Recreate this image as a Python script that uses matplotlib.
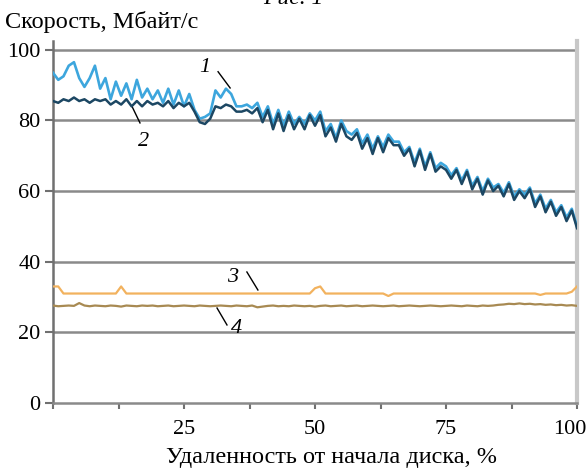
import matplotlib.pyplot as plt
import matplotlib.transforms as mtransforms
import numpy as np

plt.rcParams['font.family'] = ['Liberation Serif', 'DejaVu Serif']

# distance from disk start, %
x = np.arange(0, 101)

# 1 - light blue
s1 = [93.5, 91.5, 92.5, 95.5, 96.5, 92, 89.5, 92, 95.5, 89,
      92, 86, 91, 87, 90.5, 86, 91.5, 86.5, 89, 86,
      88.5, 85, 89, 84.5, 88.5, 84, 87.5, 83, 80.5, 81,
      82, 88.5, 86.5, 89, 87.5, 84, 84, 84.5, 83.5, 85,
      81, 84, 79, 83, 78.5, 82.5, 79, 81, 79, 82,
      80, 82.5, 77, 79, 75, 80, 77, 76, 77.5, 73.5,
      76, 72, 75.5, 72.5, 76, 74, 74, 71, 72.5, 68,
      72, 67, 71, 66.5, 68, 67, 64.5, 66.5, 63, 66,
      61.5, 64, 60, 63.5, 61, 62, 59.5, 62.5, 58.5, 60.5,
      59, 61, 56.5, 59, 55, 57.5, 54, 56, 52.5, 55,
      50]

# 2 - dark blue
s2 = [85.5, 85, 86, 85.5, 86.5, 85.5, 86, 85, 86, 85.5,
      86, 84.5, 85.5, 84.5, 86, 84, 85.5, 84, 85.5, 84.5,
      85, 84, 85.5, 83.5, 85, 84, 85, 82.5, 79.5, 79,
      80.5, 84, 83.5, 84.5, 84, 82.5, 82.5, 83, 82, 83.5,
      79.5, 83, 77.5, 82, 77, 81.5, 77.5, 80.5, 77.5, 81.5,
      78.5, 81.5, 75.5, 78, 74, 79, 75.5, 74.5, 76.5, 72,
      75, 70.5, 75, 71, 75, 73, 73, 70, 72, 67,
      71.5, 66, 70.5, 65.5, 67, 66, 63.5, 66, 62, 65.5,
      60.5, 63.5, 59, 63, 60, 61.5, 58.5, 62, 57.5, 60,
      58, 60.5, 55.5, 58.5, 54, 57, 53, 55.5, 51.5, 54.5,
      49.5]

# 3 - orange
s3 = [33, 33, 31, 31, 31, 31, 31, 31, 31, 31,
      31, 31, 31, 33, 31, 31, 31, 31, 31, 31,
      31, 31, 31, 31, 31, 31, 31, 31, 31, 31,
      31, 31, 31, 31, 31, 31, 31, 31, 31, 31,
      31, 31, 31, 31, 31, 31, 31, 31, 31, 31,
      32.5, 33, 31, 31, 31, 31, 31, 31, 31, 31,
      31, 31, 31, 31, 30.3, 31, 31, 31, 31, 31,
      31, 31, 31, 31, 31, 31, 31, 31, 31, 31,
      31, 31, 31, 31, 31, 31, 31, 31, 31, 31,
      31, 31, 31, 30.6, 31, 31, 31, 31, 31, 31.5,
      33]

# 4 - brown
s4 = [27.6, 27.4, 27.5, 27.6, 27.5, 28.3, 27.6, 27.4, 27.6, 27.5,
      27.4, 27.6, 27.5, 27.3, 27.6, 27.5, 27.4, 27.6, 27.5, 27.6,
      27.4, 27.5, 27.6, 27.4, 27.5, 27.6, 27.5, 27.4, 27.6, 27.5,
      27.4, 27.5, 27.6, 27.5, 27.4, 27.6, 27.5, 27.4, 27.6, 27.1,
      27.3, 27.5, 27.6, 27.4, 27.5, 27.4, 27.6, 27.5, 27.4, 27.5,
      27.3, 27.5, 27.6, 27.4, 27.5, 27.6, 27.4, 27.5, 27.6, 27.4,
      27.5, 27.6, 27.5, 27.4, 27.5, 27.6, 27.4, 27.5, 27.6, 27.5,
      27.4, 27.5, 27.6, 27.5, 27.4, 27.5, 27.6, 27.5, 27.4, 27.6,
      27.5, 27.4, 27.6, 27.5, 27.6, 27.8, 27.9, 28.1, 28.0, 28.2,
      28.0, 28.1, 27.9, 28.0, 27.8, 27.9, 27.7, 27.8, 27.6, 27.7,
      27.5]

fig = plt.figure(figsize=(5.87, 4.69), dpi=100)
ax = fig.add_axes([0.0903, 0.1407, 0.8927, 0.7719])

grid_c = '#8a8a8a'
for gy in [20, 40, 60, 80, 100]:
    ax.axhline(gy, color=grid_c, lw=1.8, zorder=1)

ax.plot(x, s4, color='#a88a52', lw=1.6, zorder=3)
ax.plot(x, s3, color='#f2b25e', lw=1.6, zorder=3)
ax.plot(x, s1, color='#3da6dd', lw=1.9, zorder=3)
ax.plot(x, s2, color='#1c4763', lw=1.8, zorder=4)

ax.set_xlim(0, 100)
ax.set_ylim(0, 102.5)

ax.spines['top'].set_visible(False)
ax.spines['left'].set_color('#707070')
ax.spines['left'].set_linewidth(1.8)
ax.spines['bottom'].set_color('#8a8a8a')
ax.spines['bottom'].set_linewidth(1.8)
ax.spines['right'].set_color('#c8c8c8')
ax.spines['right'].set_linewidth(3)

ax.set_yticks([0, 20, 40, 60, 80, 100])
ax.set_xticks([0, 12.5, 25, 37.5, 50, 62.5, 75, 87.5, 100])
ax.set_xticklabels(['', '', '25', '', '50', '', '75', '', '100'])
ax.tick_params(axis='y', length=6, width=1.5, color='#707070', pad=3, labelsize=16)
ax.tick_params(axis='x', length=4, width=1.5, color='#707070', pad=8, labelsize=16)

# last x label sits a bit left of the edge, like the reference
lbl = ax.get_xticklabels()[-1]
lbl.set_transform(lbl.get_transform() + mtransforms.ScaledTranslation(-0.07, 0, fig.dpi_scale_trans))

# curve labels
kw = dict(fontsize=16, style='italic', ha='center', va='center')
ax.text(29, 95, '1', **kw)
ax.plot([31.5, 33.8], [93.8, 89.2], color='black', lw=1)
ax.text(17.2, 74, '2', **kw)
ax.plot([15.1, 16.6], [83.9, 79.3], color='black', lw=1)
ax.text(34.2, 35.4, '3', **kw)
ax.plot([37, 39.1], [37.1, 32], color='black', lw=1)
ax.text(35.1, 21.2, '4', **kw)
ax.plot([31.3, 33.2], [26.9, 22.1], color='black', lw=1)

fig.text(0.009, 1 - 28 / 469, 'Скорость, Мбайт/с', fontsize=17.5, va='baseline')
fig.text(332 / 587, 1 - 463 / 469, 'Удаленность от начала диска, %',
         fontsize=17.5, ha='center', va='baseline')
fig.text(293 / 587, 1 - 4 / 469, 'Рис. 1', fontsize=17, style='italic',
         ha='center', va='baseline')

fig.savefig('out.png', dpi=100)
